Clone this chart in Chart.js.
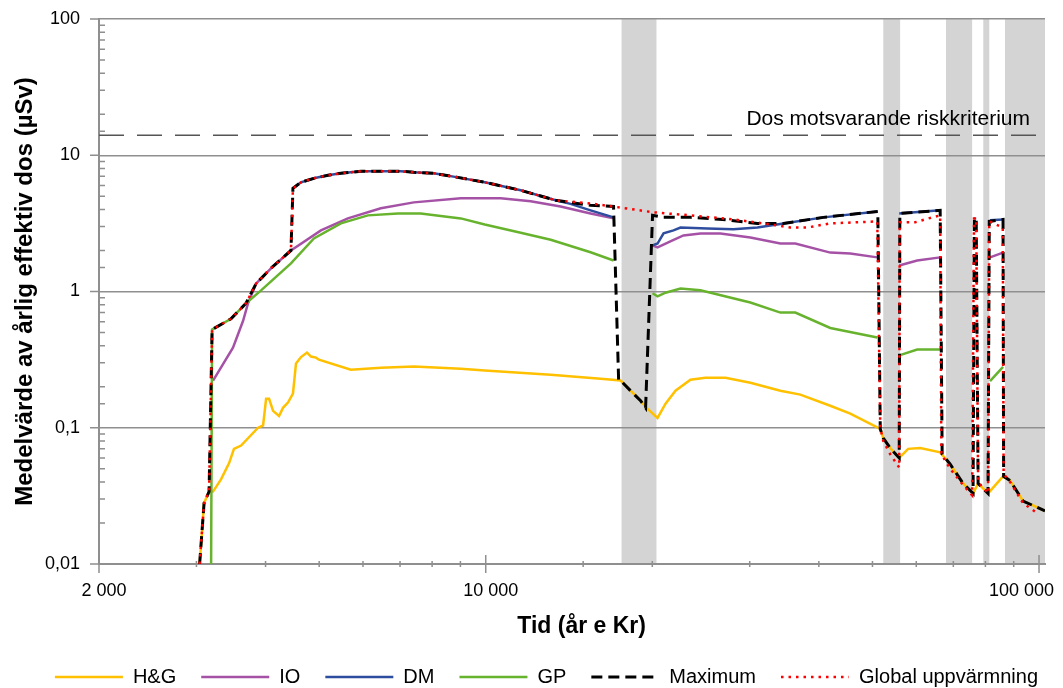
<!DOCTYPE html>
<html lang="sv">
<head>
<meta charset="utf-8">
<title>Medelvärde av årlig effektiv dos</title>
<script src="https://cdn.jsdelivr.net/npm/chart.js@4/dist/chart.umd.min.js"></script>
<style>
  html, body { margin: 0; padding: 0; background: #fff; }
</style>
</head>
<body>
<canvas id="dose-chart" width="1063" height="688"></canvas>
<script>
// Series: [år e Kr, dos i µSv]; null = no value (gap)
const hgPoints = [
  [3040, 0.01], [3097, 0.028], [3162, 0.034], [3215, 0.034], [3325, 0.042], [3437, 0.055],
  [3507, 0.07], [3613, 0.074], [3877, 0.1], [3959, 0.104], [4009, 0.163], [4059, 0.163],
  [4127, 0.133], [4231, 0.122], [4301, 0.14], [4391, 0.153], [4483, 0.178], [4540, 0.296],
  [4636, 0.33], [4753, 0.356], [4833, 0.333], [4934, 0.327], [4995, 0.316], [5704, 0.267],
  [6463, 0.276], [7413, 0.281], [9015, 0.271], [9958, 0.263], [13105, 0.245], [16131, 0.229],
  [17532, 0.222], [18268, 0.187], [19049, 0.158], [19530, 0.14], [20442, 0.118], [21134, 0.15],
  [22028, 0.187], [23442, 0.225], [24950, 0.233], [27118, 0.233], [30084, 0.214], [34085, 0.187],
  [37032, 0.175], [41950, 0.145], [45588, 0.127], [51651, 0.098], [52299, 0.084], [53830, 0.071],
  [55889, 0.06], [58000, 0.07], [61000, 0.071], [66272, 0.066], [69090, 0.054], [72920, 0.039],
  [76000, 0.033], [77607, 0.039], [80881, 0.033], [86100, 0.044], [88640, 0.041], [93560, 0.029],
  [102520, 0.0245]
];

const ioPoints = [
  [3215, 0.222], [3493, 0.387], [3643, 0.61], [3719, 0.82], [3844, 1.14], [4091, 1.48],
  [4446, 2.0], [5037, 2.81], [5634, 3.44], [6463, 4.08], [7413, 4.51], [9015, 4.83],
  [10644, 4.83], [12058, 4.6], [13655, 4.2], [15468, 3.74], [17022, 3.44], [18500, null],
  [20021, 2.18], [20442, 2.11], [21755, 2.37], [22773, 2.58], [24438, 2.67], [26560, 2.67],
  [30084, 2.49], [34085, 2.25], [36269, 2.25], [41950, 1.93], [45588, 1.9], [51018, 1.78],
  [53000, null], [55889, 1.55], [60231, 1.69], [66272, 1.78], [75000, null], [81560, 1.78],
  [86100, 1.93]
];

const dmPoints = [
  [4483, 5.72], [4636, 6.33], [4891, 6.77], [5186, 7.13], [5473, 7.37], [5948, 7.63],
  [6463, 7.63], [7023, 7.63], [7413, 7.5], [8055, 7.37], [8900, 6.88], [9958, 6.33],
  [11566, 5.53], [13378, 4.67], [14233, 4.4], [15468, 3.94], [17022, 3.5], [18500, null],
  [20021, 2.18], [20442, 2.25], [20960, 2.67], [21844, 2.81], [22491, 2.95], [25160, 2.9],
  [28034, 2.86], [30974, 2.95], [34514, 3.16], [40750, 3.5], [51125, 3.87], [53000, null],
  [55889, 3.74], [66272, 3.94], [70000, null], [76400, 3.44], [77000, 3.44], [79000, null],
  [81560, 3.33], [86100, 3.38]
];

const gpPoints = [
  [3189, 0.01], [3202, 0.526], [3464, 0.63], [3688, 0.82], [3926, 1.02], [4446, 1.61],
  [4891, 2.45], [5473, 3.16], [6124, 3.62], [6937, 3.74], [7630, 3.74], [9015, 3.44],
  [9958, 3.1], [11566, 2.7], [13105, 2.4], [15468, 1.94], [17022, 1.69], [18500, null],
  [20021, 0.97], [20442, 0.92], [21134, 0.98], [22491, 1.05], [24438, 1.02], [30084, 0.83],
  [34085, 0.7], [36269, 0.7], [41950, 0.54], [51018, 0.46], [53000, null], [55889, 0.34],
  [60231, 0.375], [66272, 0.375], [70000, null], [76700, 0.23], [77300, 0.245], [79000, null],
  [81560, 0.22], [86100, 0.28]
];

const maxPoints = [
  [3040, 0.01], [3097, 0.028], [3162, 0.034], [3202, 0.526], [3464, 0.63], [3688, 0.82],
  [3844, 1.14], [4091, 1.48], [4446, 2.0], [4483, 5.72], [4636, 6.33], [4891, 6.77],
  [5186, 7.13], [5473, 7.37], [5948, 7.63], [6463, 7.63], [7023, 7.63], [7413, 7.5],
  [8055, 7.37], [8900, 6.88], [9958, 6.33], [11566, 5.53], [13378, 4.67], [15468, 4.29],
  [17022, 4.21], [17387, 0.222], [17532, 0.222], [18268, 0.187], [19049, 0.158], [19450, 0.14],
  [20021, 3.62], [20960, 3.5], [23442, 3.5], [26800, 3.38], [30974, 3.16], [34514, 3.16],
  [40750, 3.5], [51125, 3.87], [51651, 0.098], [52299, 0.084], [53830, 0.071], [55889, 0.06],
  [56035, 3.74], [66272, 3.94], [66825, 0.064], [69090, 0.054], [72920, 0.039], [76000, 0.033],
  [76400, 3.44], [77000, 3.44], [77607, 0.039], [80881, 0.033], [81300, 3.27], [86100, 3.38],
  [86300, 0.044], [88640, 0.041], [93560, 0.029], [102520, 0.0245]
];

const globalPoints = [
  [3040, 0.01], [3097, 0.028], [3162, 0.034], [3202, 0.526], [3464, 0.63], [3688, 0.82],
  [3844, 1.14], [4091, 1.48], [4446, 2.0], [4483, 5.72], [4636, 6.33], [4891, 6.77],
  [5186, 7.13], [5473, 7.37], [5948, 7.63], [6463, 7.63], [7023, 7.63], [7413, 7.5],
  [8055, 7.37], [8900, 6.88], [9958, 6.33], [11566, 5.53], [13378, 4.67], [15468, 4.43],
  [17750, 4.1], [20110, 3.81], [23442, 3.62], [28034, 3.38], [31750, 3.16], [35520, 2.95],
  [38140, 2.95], [41950, 3.16], [51018, 3.27], [51651, 0.1], [52299, 0.08], [53830, 0.064],
  [55889, 0.051], [56000, 3.22], [59740, 3.22], [64110, 3.5], [66272, 3.62], [66600, 0.064],
  [69090, 0.05], [72920, 0.038], [75697, 0.032], [76300, 3.44], [77000, 3.44], [77607, 0.04],
  [80881, 0.033], [81300, 3.27], [86000, 2.95], [86300, 0.046], [88640, 0.04], [93560, 0.028],
  [99170, 0.0237]
];

// Grey periods (år e Kr, from - to)
const coldPeriods = [[17600, 20350], [52300, 56100], [67900, 75700], [79300, 81300], [86800, 102520]];

// Axis ticks and labels
const xTickValues = [2000, 10000, 100000];
const xTickLabels = ['2 000', '10 000', '100 000'];
const yTickValues = [0.01, 0.1, 1, 10, 100];
const yTickLabels = ['0,01', '0,1', '1', '10', '100'];

const riskDose = 14;
const riskLabel = 'Dos motsvarande riskkriterium';

const X_MIN = 2000;
const X_MAX = 102520;
const AXIS_GREY = '#8f8f8f';
const FONT = '"Liberation Sans", Arial, Helvetica, sans-serif';

/**
 * True when the value is a power of ten.
 * @param {number} v
 */
function isDecade(v) {
  const l = Math.log10(v);
  return Math.abs(l - Math.round(l)) < 1e-6;
}

function findLabel(values, labels, v) {
  const i = values.findIndex(t => Math.abs(t - v) / t < 1e-6);
  return i < 0 ? '' : labels[i];
}

function toPoints(pairs) {
  return pairs.map(([x, y]) => ({ x, y }));
}

// Grey bands behind everything (drawn before the grid)
const bandPlugin = {
  id: 'coldBands',
  beforeDraw(chart) {
    const { ctx, chartArea, scales: { x } } = chart;
    ctx.save();
    ctx.fillStyle = '#d4d4d4';
    coldPeriods.forEach(([from, to]) => {
      const x0 = x.getPixelForValue(from);
      const x1 = Math.min(x.getPixelForValue(to), chartArea.right);
      ctx.fillRect(x0, chartArea.top, x1 - x0, chartArea.bottom - chartArea.top);
    });
    ctx.restore();
  }
};

// Tick marks like the original: y major outside, y minor inside, x ticks crossing the axis
const tickMarkPlugin = {
  id: 'tickMarks',
  afterDatasetsDraw(chart) {
    const { ctx, chartArea, scales: { x, y } } = chart;
    ctx.save();
    ctx.strokeStyle = AXIS_GREY;
    ctx.lineWidth = 1.5;
    ctx.beginPath();
    y.ticks.forEach(t => {
      const py = y.getPixelForValue(t.value);
      if (isDecade(t.value)) {
        ctx.moveTo(chartArea.left - 9, py);
        ctx.lineTo(chartArea.left, py);
      } else {
        ctx.moveTo(chartArea.left, py);
        ctx.lineTo(chartArea.left + 6, py);
      }
    });
    x.ticks.forEach(t => {
      if (t.value > 100000) return;
      const px = x.getPixelForValue(t.value);
      const len = findLabel(xTickValues, xTickLabels, t.value) ? 9 : 3;
      ctx.moveTo(px, chartArea.bottom - len);
      ctx.lineTo(px, chartArea.bottom + len);
    });
    ctx.stroke();

    // Label for the risk line
    ctx.fillStyle = '#000';
    ctx.font = '21px ' + FONT;
    ctx.textAlign = 'right';
    ctx.textBaseline = 'alphabetic';
    ctx.fillText(riskLabel, chartArea.right - 15, y.getPixelForValue(riskDose) - 10);
    ctx.restore();
  }
};

// Legend items get the dataset's own line style (dashes included)
function legendLabels(chart) {
  return Chart.defaults.plugins.legend.labels.generateLabels(chart).map(item => {
    const ds = chart.data.datasets[item.datasetIndex];
    item.lineDash = ds.borderDash || [];
    item.strokeStyle = ds.borderColor;
    item.lineWidth = ds.borderWidth;
    item.lineCap = 'butt';
    return item;
  });
}

const lineDefaults = { pointRadius: 0, pointHoverRadius: 0, fill: false, spanGaps: false, tension: 0 };

const chartCfg = {
  type: 'line',
  data: {
    datasets: [
      { ...lineDefaults, label: 'H&G', data: toPoints(hgPoints), borderColor: '#ffc000', backgroundColor: '#ffc000', borderWidth: 2.5, order: 5 },
      { ...lineDefaults, label: 'IO', data: toPoints(ioPoints), borderColor: '#a552a6', backgroundColor: '#a552a6', borderWidth: 2.5, order: 4 },
      { ...lineDefaults, label: 'DM', data: toPoints(dmPoints), borderColor: '#2f4d9e', backgroundColor: '#2f4d9e', borderWidth: 2.5, order: 3 },
      { ...lineDefaults, label: 'GP', data: toPoints(gpPoints), borderColor: '#67b32e', backgroundColor: '#67b32e', borderWidth: 2.5, order: 2 },
      { ...lineDefaults, label: 'Maximum', data: toPoints(maxPoints), borderColor: '#000', backgroundColor: '#000', borderWidth: 3, borderDash: [11, 6], order: 1 },
      { ...lineDefaults, label: 'Global uppvärmning', data: toPoints(globalPoints), borderColor: '#ff0000', backgroundColor: '#ff0000', borderWidth: 2.5, borderDash: [2.5, 5], order: 0 },
      { ...lineDefaults, label: riskLabel, data: [{ x: X_MIN, y: riskDose }, { x: X_MAX, y: riskDose }], borderColor: '#555', backgroundColor: '#555', borderWidth: 1.5, borderDash: [25, 13], order: 6, hideInLegend: true }
    ]
  },
  options: {
    responsive: false,
    animation: false,
    devicePixelRatio: 1,
    events: [],
    layout: { padding: { left: 0, right: 0, top: 19, bottom: -9 } },
    plugins: {
      tooltip: { enabled: false },
      legend: {
        position: 'bottom',
        align: 'end',
        labels: {
          usePointStyle: true,
          pointStyle: 'line',
          pointStyleWidth: 68,
          padding: 25,
          color: '#000',
          font: { size: 20, family: FONT },
          generateLabels: legendLabels,
          filter: (item, data) => !data.datasets[item.datasetIndex].hideInLegend,
          sort: (a, b) => a.datasetIndex - b.datasetIndex
        }
      }
    },
    scales: {
      x: {
        type: 'logarithmic',
        min: X_MIN,
        max: X_MAX,
        grid: { display: true, drawOnChartArea: false, color: 'rgba(0,0,0,0)', tickColor: 'rgba(0,0,0,0)', tickLength: 8 },
        border: { display: true, color: AXIS_GREY, width: 2 },
        ticks: {
          autoSkip: false,
          maxRotation: 0,
          minRotation: 0,
          padding: 8,
          labelOffset: 5,
          color: '#000',
          font: { size: 18, family: FONT },
          callback: (v) => {
            const label = findLabel(xTickValues, xTickLabels, v);
            // last label sits left of its tick in the original
            return v === 100000 ? label + '\u00a0'.repeat(9) : label;
          }
        },
        title: {
          display: true,
          text: '\u00a0\u00a0\u00a0Tid (år e Kr)',
          color: '#000',
          font: { size: 23, weight: 'bold', family: FONT },
          padding: { top: 0, bottom: 2 }
        },
        afterFit: (scale) => {
          scale.height = 78;
          scale.paddingLeft = 0;
          scale.paddingRight = 18;
        }
      },
      y: {
        type: 'logarithmic',
        min: 0.01,
        max: 100,
        grid: {
          color: (c) => (c.tick && isDecade(c.tick.value)) ? AXIS_GREY : 'rgba(0,0,0,0)',
          lineWidth: 1.5,
          tickColor: 'rgba(0,0,0,0)',
          tickLength: 10
        },
        border: { display: true, color: AXIS_GREY, width: 2 },
        ticks: {
          autoSkip: false,
          padding: 9,
          color: '#000',
          font: { size: 18, family: FONT },
          callback: (v) => findLabel(yTickValues, yTickLabels, v)
        },
        title: {
          display: true,
          text: 'Medelvärde av årlig effektiv dos (µSv)',
          color: '#000',
          font: { size: 24, weight: 'bold', family: FONT },
          padding: { top: 11, bottom: 0 }
        },
        afterFit: (scale) => {
          scale.width = 99;
          scale.paddingTop = 0;
          scale.paddingBottom = 0;
        }
      }
    }
  },
  plugins: [bandPlugin, tickMarkPlugin]
};

new Chart(document.getElementById('dose-chart'), chartCfg);
</script>
</body>
</html>
